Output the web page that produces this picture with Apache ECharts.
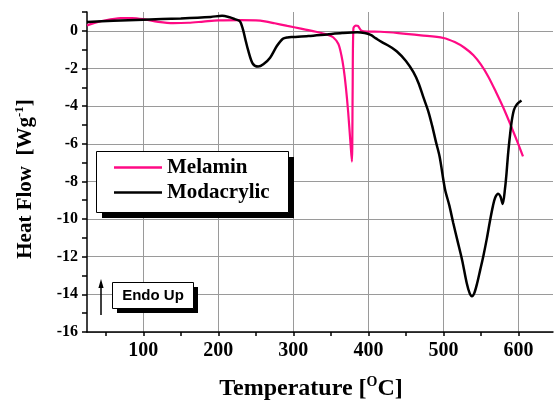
<!DOCTYPE html>
<html lang="en">
<head>
	<meta charset="UTF-8">
	<title>DSC Melamin / Modacrylic</title>
	<script src="https://cdn.jsdelivr.net/npm/echarts@6/dist/echarts.min.js"></script>
	<style>
		html,body{margin:0;padding:0;background:#fff;}
		#box{width:554px;height:400px;}
	</style>
</head>
<body>
<div id="box"></div>
<script>
	// temperature [°C] and heat flow [W/g]
	let melaminT=[25,35,50,70,85,100,120,140,160,180,200,230,250,262,275,292,310,330,345,353,360,364,367,370,373,376,378,379,380,383,386,391,400,416,440,470,500,515,528,540,550,560,570,580,590,600,606];
	let melaminHF=[0.29,0.42,0.56,0.67,0.68,0.62,0.48,0.41,0.43,0.49,0.55,0.57,0.55,0.5,0.4,0.26,0.12,-0.05,-0.2,-0.34,-0.7,-1.3,-2.0,-3.0,-4.3,-5.9,-6.95,-3.2,0.12,0.28,0.26,0.0,-0.04,-0.05,-0.12,-0.24,-0.38,-0.6,-0.9,-1.3,-1.8,-2.45,-3.25,-4.1,-5.05,-6.05,-6.67];

	let modacrylicT=[25,60,100,150,190,205,215,222,229,233,236,240,246,253,260,269,278,286,292,300,320,345,365,385,395,403,410,418,428,438,450,460,467,473,480,485,490,495,502,508,513,519,525,531,535,538,541,545,549,553,558,562,566,569,573,576,579,582,584,586,588,591,594,598,604];
	let modacrylicHF=[0.47,0.53,0.59,0.66,0.74,0.8,0.72,0.62,0.5,0.05,-0.45,-1.07,-1.75,-1.9,-1.78,-1.43,-0.81,-0.42,-0.35,-0.33,-0.28,-0.19,-0.12,-0.08,-0.12,-0.22,-0.4,-0.6,-0.82,-1.1,-1.6,-2.2,-2.8,-3.5,-4.3,-5.05,-5.9,-6.7,-8.4,-9.3,-10.2,-11.2,-12.2,-13.4,-13.95,-14.1,-13.95,-13.4,-12.7,-12.0,-11.0,-10.1,-9.3,-8.85,-8.65,-8.8,-9.2,-8.4,-7.6,-6.6,-5.8,-4.8,-4.2,-3.9,-3.7];

	let tempTicks=[50,100,150,200,250,300,350,400,450,500,550,600];
	let tempLabels=[100,200,300,400,500,600];
	let hfTicks=[-16,-15,-14,-13,-12,-11,-10,-9,-8,-7,-6,-5,-4,-3,-2,-1,0,1];
	let hfLabels=[-16,-14,-12,-10,-8,-6,-4,-2,0];

	let serif='"Liberation Serif","Times New Roman",serif';
	let black={color:'#000',width:1.5};
	let grey={color:'#9a9a9a',width:1};

	let charts=echarts.init(document.getElementById('box'));
	let options={
		animation:false,
		grid:{left:87,top:12,right:1,bottom:68},
		legend:{
			orient:'vertical',
			left:96,top:151,
			padding:[6,18,9,18],
			icon:'rect',
			itemWidth:48,itemHeight:2.4,itemGap:4,
			selectedMode:false,
			textStyle:{fontFamily:serif,fontWeight:'bold',fontSize:21,lineHeight:21,color:'#000'},
			data:['Melamin','Modacrylic']
		},
		xAxis:[
			{
				type:'value',min:25,max:646,position:'bottom',
				axisLine:{onZero:false,lineStyle:black},
				axisTick:{customValues:tempTicks,length:4,lineStyle:black},
				axisLabel:{customValues:tempLabels,margin:9,color:'#000',fontFamily:serif,fontWeight:'bold',fontSize:20},
				splitLine:{show:false}
			},
			{
				type:'value',min:25,max:646,position:'bottom',
				axisLine:{show:false,onZero:false},
				axisTick:{show:false,customValues:tempLabels},
				axisLabel:{show:false},
				splitLine:{show:true,lineStyle:grey}
			}
		],
		yAxis:[
			{
				type:'value',min:-16,max:1,position:'left',
				axisLine:{onZero:false,lineStyle:black},
				axisTick:{customValues:hfTicks,length:5,lineStyle:black},
				axisLabel:{customValues:hfLabels,margin:9,color:'#000',fontFamily:serif,fontWeight:'bold',fontSize:16},
				splitLine:{show:false}
			},
			{
				type:'value',min:-16,max:1,position:'left',
				axisLine:{show:false,onZero:false},
				axisTick:{show:false,customValues:hfLabels},
				axisLabel:{show:false},
				splitLine:{show:true,lineStyle:grey}
			}
		],
		graphic:[
			// legend frame with drop shadow
			{type:'rect',z:3,shape:{x:102,y:157,width:192,height:61},style:{fill:'#000'}},
			{type:'rect',z:3,shape:{x:96.5,y:151.5,width:192,height:61},style:{fill:'#fff',stroke:'#000',lineWidth:1}},
			// "Endo Up" note
			{type:'rect',z:10,shape:{x:117,y:287,width:81,height:26},style:{fill:'#000'}},
			{type:'rect',z:11,shape:{x:112.5,y:282.5,width:81,height:26},style:{fill:'#fff',stroke:'#000',lineWidth:1}},
			{type:'text',z:12,x:153,y:296,style:{text:'Endo Up',fontFamily:'"Liberation Sans",Arial,sans-serif',fontWeight:'bold',fontSize:15,align:'center',verticalAlign:'middle',fill:'#000'}},
			{type:'line',z:12,shape:{x1:101,y1:315,x2:101,y2:284},style:{stroke:'#000',lineWidth:1.5}},
			{type:'polygon',z:12,shape:{points:[[101,279],[98.4,288],[103.6,288]]},style:{fill:'#000'}},
			{
				type:'text',x:311,y:403,
				style:{
					text:'Temperature [{s|O}C]',
					fontFamily:serif,fontWeight:'bold',fontSize:24,fill:'#000',
					align:'center',verticalAlign:'bottom',
					rich:{s:{fontFamily:serif,fontWeight:'bold',fontSize:14,padding:[0,0,14,0]}}
				}
			},
			{
				type:'text',x:26,y:179,rotation:Math.PI/2,
				style:{
					text:'Heat Flow  [Wg{s|-1}]',
					fontFamily:serif,fontWeight:'bold',fontSize:21,fill:'#000',
					align:'center',verticalAlign:'middle',
					rich:{s:{fontFamily:serif,fontWeight:'bold',fontSize:13,padding:[0,0,13,0]}}
				}
			}
		],
		series:[
			{
				name:'Melamin',type:'line',
				data:melaminT.map((t,i)=>[t,melaminHF[i]]),
				symbol:'none',showSymbol:false,smooth:0.3,
				lineStyle:{color:'#ff0a84',width:2.2},
				itemStyle:{color:'#ff0a84'}
			},
			{
				name:'Modacrylic',type:'line',
				data:modacrylicT.map((t,i)=>[t,modacrylicHF[i]]),
				symbol:'none',showSymbol:false,smooth:0.3,
				lineStyle:{color:'#000',width:2.5},
				itemStyle:{color:'#000'}
			}
		]
	};
	charts.setOption(options);
</script>
</body>
</html>
